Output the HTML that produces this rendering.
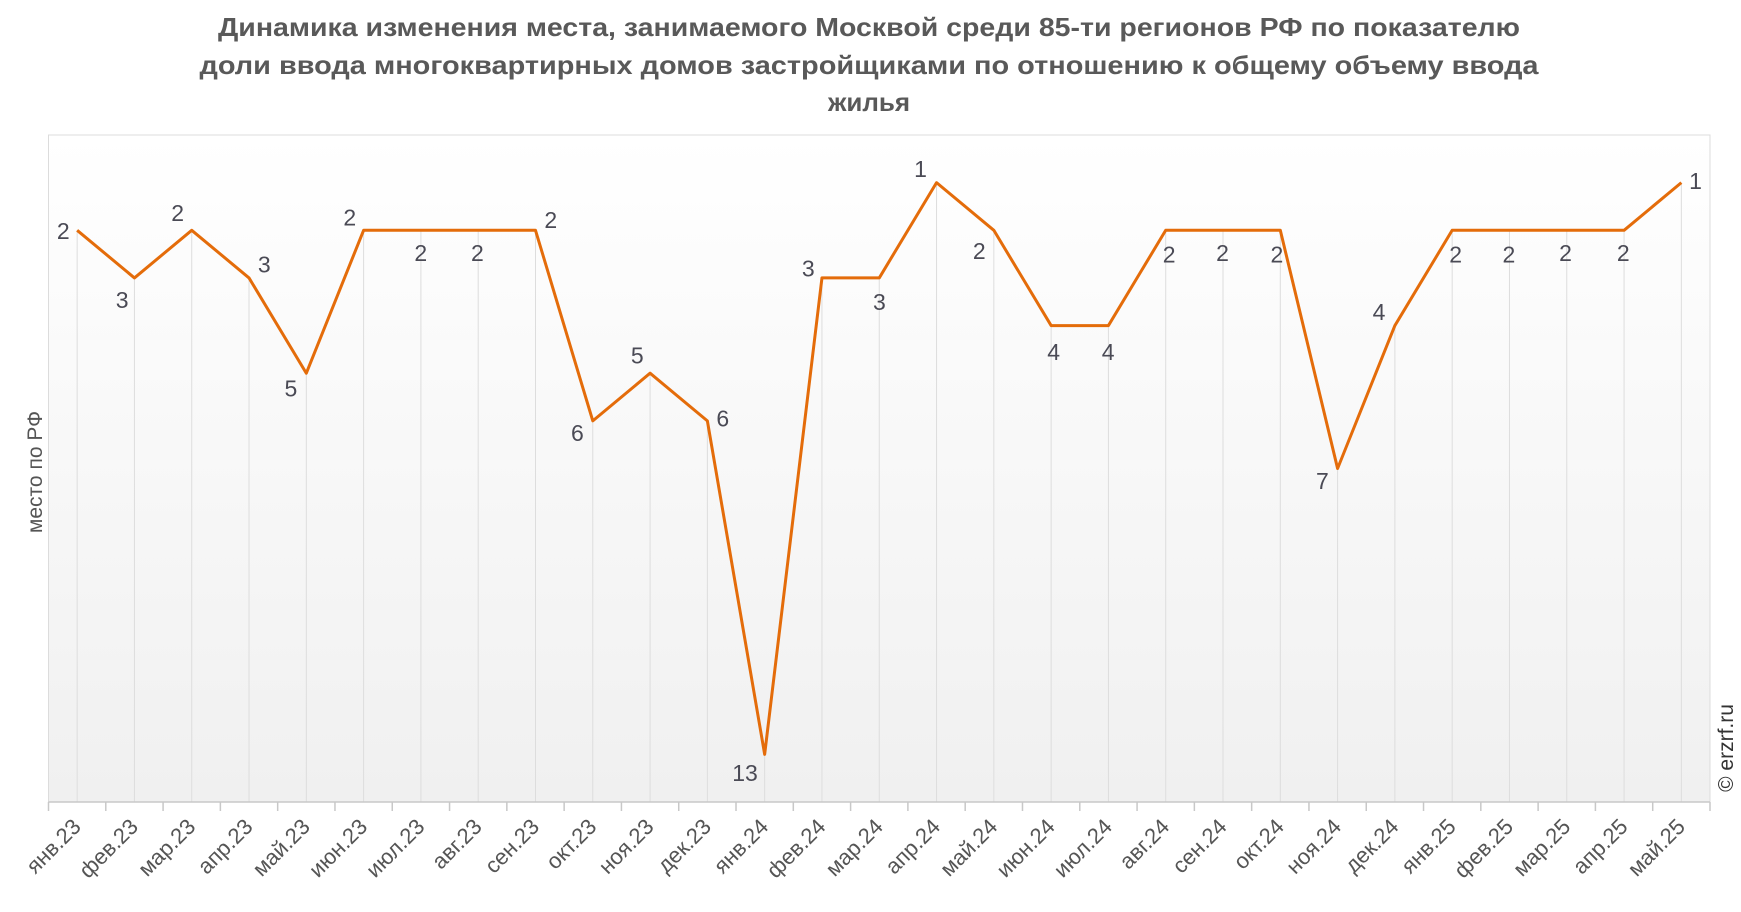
<!DOCTYPE html>
<html><head><meta charset="utf-8"><style>
html,body{margin:0;padding:0;background:#fff;}
svg{display:block;font-family:"Liberation Sans",sans-serif;}
</style></head><body>
<svg width="1741" height="912" xmlns="http://www.w3.org/2000/svg">
<defs>
<linearGradient id="bg" x1="0" y1="0" x2="0" y2="1">
<stop offset="0" stop-color="#ffffff"/><stop offset="1" stop-color="#f0f0f0"/>
</linearGradient>
</defs>
<g font-weight="bold" font-size="26" fill="#595959" text-anchor="middle">
<text x="869" y="36" textLength="1302" lengthAdjust="spacingAndGlyphs">Динамика изменения места, занимаемого Москвой среди 85-ти регионов РФ по показателю</text>
<text x="869" y="74" textLength="1339" lengthAdjust="spacingAndGlyphs">доли ввода многоквартирных домов застройщиками по отношению к общему объему ввода</text>
<text x="869" y="111">жилья</text>
</g>
<rect x="48.5" y="135" width="1661.5" height="667" fill="url(#bg)" stroke="#dcdcdc" stroke-width="1"/>
<g id="grid" stroke="#dddddd" stroke-width="1"></g>
<line x1="48.5" y1="802" x2="1710" y2="802" stroke="#c8c8c8" stroke-width="1.5"/>
<g id="ticks" stroke="#c8c8c8" stroke-width="1.5"></g>
<polyline id="line" fill="none" stroke="#e46c0a" stroke-width="3" stroke-linejoin="round"/>
<g id="labels" font-size="23" fill="#4a4a55" text-anchor="middle"></g>
<g id="xl" font-size="22" fill="#555" text-anchor="end"></g>
<text transform="translate(42,472) rotate(-90)" font-size="21" fill="#555" text-anchor="middle">место по РФ</text>
<text transform="translate(1733,748) rotate(-90)" font-size="21" fill="#333" text-anchor="middle">© erzrf.ru</text>
</svg>
<script>
var v=[2,3,2,3,5,2,2,2,2,6,5,6,13,3,3,1,2,4,4,2,2,2,7,4,2,2,2,2,1];
var m=['янв','фев','мар','апр','май','июн','июл','авг','сен','окт','ноя','дек'];
var lp=[[57,208],[110,270],[160,192],[238,238],[262,350],[315,196],[379,228],[430,228],[496,198],[520,390],[574,320],[651,377],[671,696],[728,242],[792,272],[829,152],[882,226],[949,317],[998,317],[1053,229],[1101,228],[1150,229],[1191,433],[1242,281],[1311,229],[1359,229],[1410,228],[1462,228],[1527,163]];
var ns="http://www.w3.org/2000/svg",k=1741/1568;
function el(t,a,p,txt){var e=document.createElementNS(ns,t);for(var i in a)e.setAttribute(i,a[i]);if(txt)e.textContent=txt;document.getElementById(p).appendChild(e);}
var w=(1710-48.5)/29,pts=[];
for(var i=0;i<29;i++){
 var x=48.5+w*(i+0.5),y=135+v[i]*667/14;pts.push(x+','+y);
 el('line',{x1:x,y1:y,x2:x,y2:802},'grid');
 el('line',{x1:48.5+w*i,y1:802,x2:48.5+w*i,y2:811},'ticks');
 el('text',{x:lp[i][0]*k,y:lp[i][1]*k+8},'labels',String(v[i]));
 var lab=m[i%12]+'.'+(23+Math.floor(i/12));
 el('text',{transform:'translate('+(x+5)+',828) rotate(-45)'},'xl',lab);
}
el('line',{x1:1710,y1:802,x2:1710,y2:811},'ticks');
document.getElementById('line').setAttribute('points',pts.join(' '));
</script>
</body></html>
